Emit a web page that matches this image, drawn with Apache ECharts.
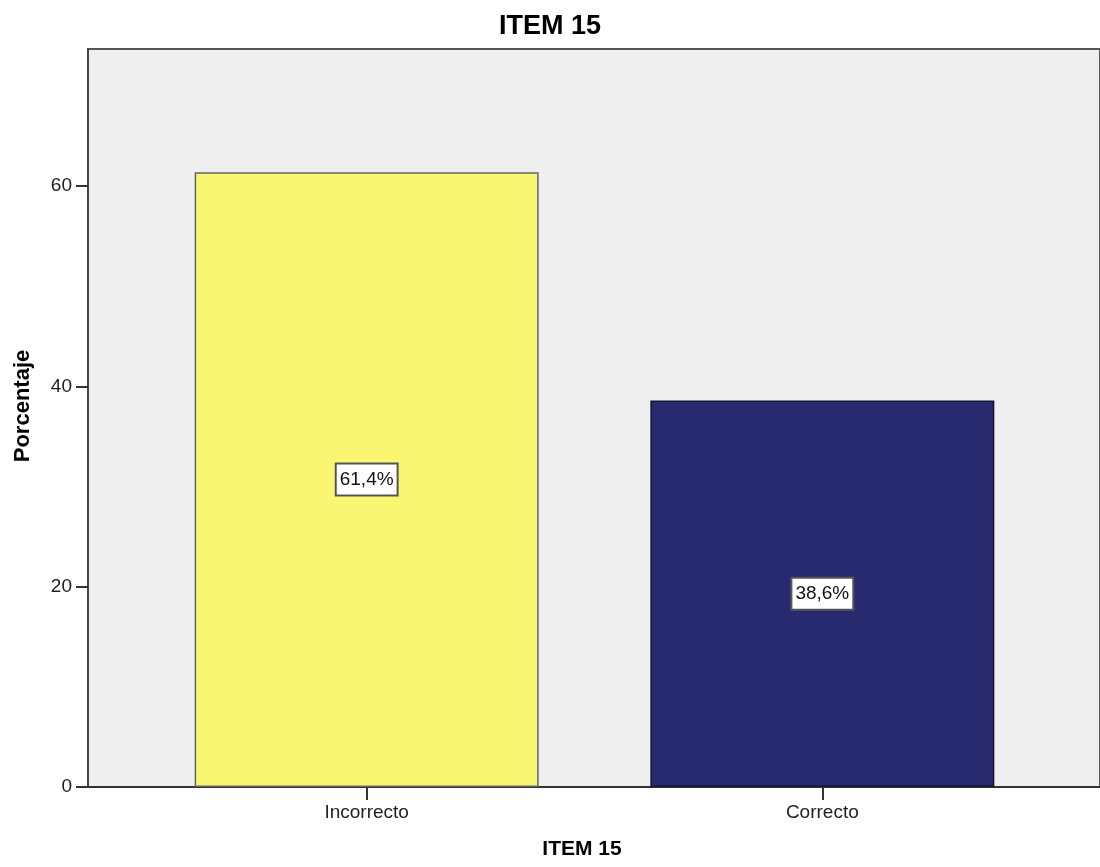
<!DOCTYPE html>
<html>
<head>
<meta charset="utf-8">
<script src="https://cdn.jsdelivr.net/npm/echarts@6/dist/echarts.min.js"></script>
<style>
  html, body { margin: 0; padding: 0; background: #ffffff; }
  #chart { width: 1100px; height: 867px; }
</style>
</head>
<body>
<div id="chart"></div>
<script>
// Answer categories and their percentages
const categories = ['Incorrecto', 'Correcto'];
const percentages = [61.4, 38.6];
const barColors = ['#f9f772', '#272a6e'];
const barBorders = ['#666666', '#151630'];
const yTicks = [0, 20, 40, 60];

const FONT = '"Liberation Sans", Arial, sans-serif';

// Categories sit at integer positions 0, 1 on a numeric x axis so the
// plot frame can extend past the outer bars as in SPSS-style charts.
const positions = categories.map((_, i) => i);

const chart = echarts.init(document.getElementById('chart'));
chart.setOption({
  animation: false,
  backgroundColor: '#ffffff',
  title: {
    text: 'ITEM 15',
    left: 'center',
    top: 8,
    textStyle: { fontFamily: FONT, fontSize: 27, fontWeight: 'bold', color: '#000' }
  },
  grid: {
    left: 88, right: -3, top: 49, bottom: 80,
    show: true,
    backgroundColor: '#efefef',
    borderColor: '#555555',
    borderWidth: 2
  },
  xAxis: {
    type: 'value',
    min: -0.6116,
    max: 1.6094,
    splitLine: { show: false },
    axisLine: { show: true, onZero: false, lineStyle: { color: '#333', width: 2 } },
    axisTick: { show: true, customValues: positions, length: 13, lineStyle: { color: '#333', width: 2 } },
    axisLabel: {
      customValues: positions,
      formatter: v => categories[Math.round(v)] || '',
      fontFamily: FONT, fontSize: 19, color: '#222', margin: 16
    },
    name: 'ITEM 15',
    nameLocation: 'middle',
    nameGap: 52,
    nameTextStyle: { fontFamily: FONT, fontSize: 21, fontWeight: 'bold', color: '#000', padding: [0, 24, 0, 0] }
  },
  yAxis: {
    type: 'value',
    min: 0,
    max: 73.7,
    splitLine: { show: false },
    axisLine: { show: true, onZero: false, lineStyle: { color: '#444', width: 2 } },
    axisTick: { show: true, customValues: yTicks, length: 12, lineStyle: { color: '#333', width: 2 } },
    axisLabel: {
      customValues: yTicks,
      fontFamily: FONT, fontSize: 19, color: '#222', margin: 16
    },
    name: 'Porcentaje',
    nameLocation: 'middle',
    nameGap: 54,
    nameTextStyle: { fontFamily: FONT, fontSize: 22, fontWeight: 'bold', color: '#000', padding: [0, 0, 0, 24] }
  },
  series: [{
    type: 'bar',
    barWidth: 344,
    data: percentages.map((v, i) => ({
      value: [positions[i], v],
      itemStyle: { color: barColors[i], borderColor: barBorders[i], borderWidth: 1.5 }
    })),
    label: {
      show: true,
      position: 'inside',
      formatter: p => p.value[1].toFixed(1).replace('.', ',') + '%',
      fontFamily: FONT,
      fontSize: 19,
      color: '#111',
      backgroundColor: '#ffffff',
      borderColor: '#555555',
      borderWidth: 2,
      padding: [6, 3, 5, 3]
    }
  }]
});
</script>
</body>
</html>
